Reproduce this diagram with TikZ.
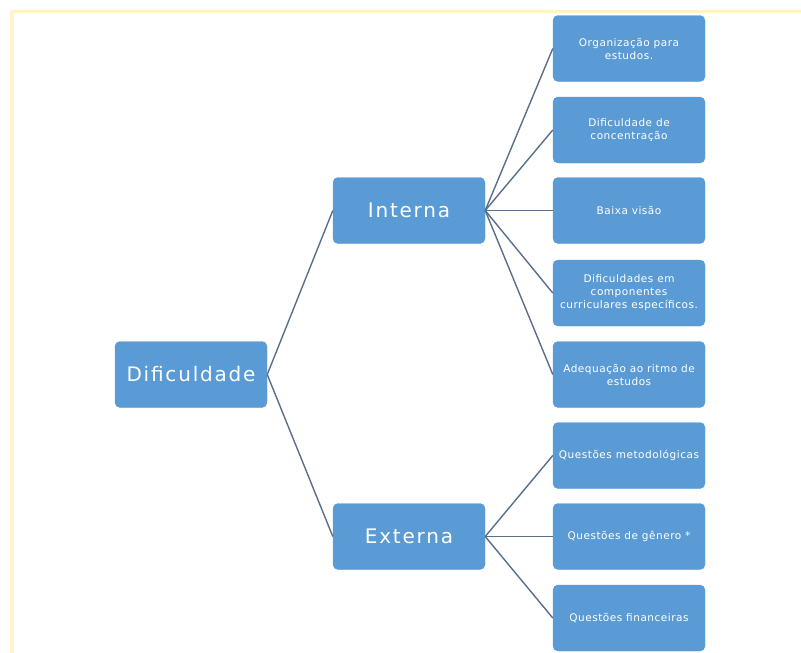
\documentclass[tikz,border=0pt]{standalone}
\usepackage{fontspec}
\setmainfont{DejaVu Sans}
\newfontfamily\bigfont[LetterSpace=9]{DejaVu Sans}
\newfontfamily\smallfont[LetterSpace=5]{DejaVu Sans}
\definecolor{boxblue}{HTML}{5B9BD5}
\definecolor{linkc}{RGB}{88,110,140}
\definecolor{framec}{HTML}{FFF2CC}
\begin{document}
\begin{tikzpicture}[x=1pt,y=-1pt,
  bigbox/.style={draw=boxblue,fill=boxblue,rounded corners=5pt,minimum width=152pt,minimum height=66pt,inner sep=0pt,text=white,font=\bigfont\fontsize{20}{23}\selectfont,anchor=center},
  leafbox/.style={draw=boxblue,fill=boxblue,rounded corners=5pt,minimum width=152pt,minimum height=66pt,inner sep=0pt,text=white,align=center,font=\smallfont\fontsize{10.5}{13}\selectfont,anchor=center},
  link/.style={draw=linkc,line width=1.4pt}]
\useasboundingbox (0,0) rectangle (801,653);
\fill[framec] (10,10) rectangle (801,13);
\fill[framec] (10,10) rectangle (14,653);
\node[bigbox] (dif) at (191,374.5) {Dificuldade};
\node[bigbox] (int) at (409,210.5) {Interna};
\node[bigbox] (ext) at (409,536.5) {Externa};
\node[leafbox] (l1) at (629,48.5) {Organização para\\estudos.};
\node[leafbox] (l2) at (629,130) {Dificuldade de\\concentração};
\node[leafbox] (l3) at (629,210.5) {Baixa visão};
\node[leafbox] (l4) at (629,293) {Dificuldades em\\componentes\\curriculares específicos.};
\node[leafbox] (l5) at (629,374.5) {Adequação ao ritmo de\\estudos};
\node[leafbox] (l6) at (629,455.5) {Questões metodológicas};
\node[leafbox] (l7) at (629,536.5) {Questões de gênero *};
\node[leafbox] (l8) at (629,618) {Questões financeiras};
\draw[link] (dif.east) -- (int.west);
\draw[link] (dif.east) -- (ext.west);
\foreach \n in {l1,l2,l3,l4,l5} \draw[link] (int.east) -- (\n.west);
\foreach \n in {l6,l7,l8} \draw[link] (ext.east) -- (\n.west);
\end{tikzpicture}
\end{document}
